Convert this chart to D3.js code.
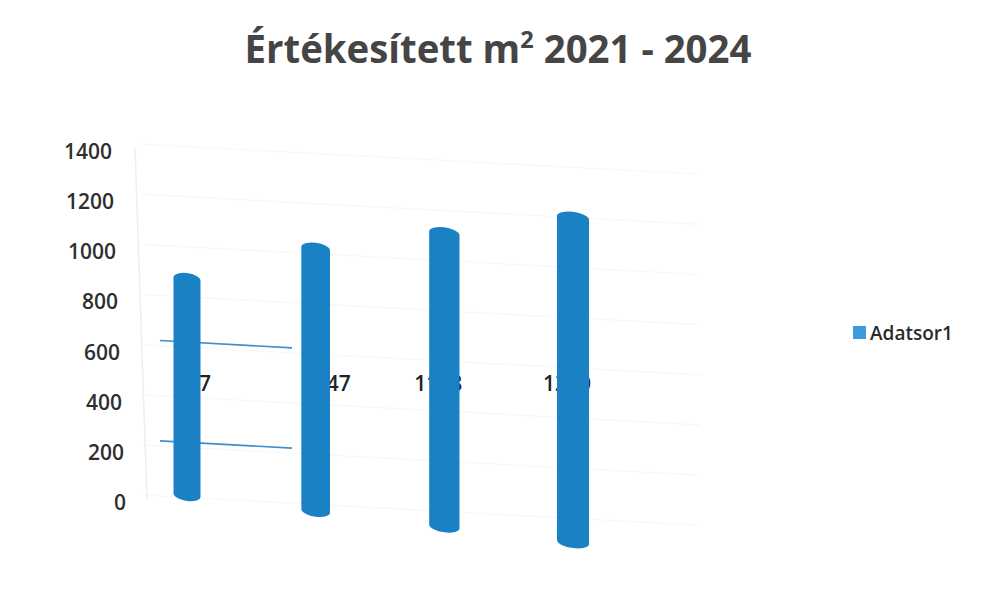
<!DOCTYPE html>
<html>
<head>
<meta charset="utf-8">
<script src="https://cdn.jsdelivr.net/npm/d3@7"></script>
<style>
  html, body { margin: 0; padding: 0; background: #fff; }
  svg { display: block; }
</style>
</head>
<body>
<svg id="chart" width="984" height="595"></svg>
<script>
const categories = ["2021", "2022", "2023", "2024"];
const values = [867, 1047, 1168, 1290];
const yTicks = [0, 200, 400, 600, 800, 1000, 1200, 1400];
const seriesName = "Adatsor1";

const svg = d3.select("#chart");
const W = 984, H = 595;
svg.append("rect").attr("width", W).attr("height", H).attr("fill", "#fff");

// Title
const title = svg.append("text")
  .attr("x", 498).attr("y", 63)
  .attr("text-anchor", "middle")
  .attr("font-family", "'Open Sans', 'DejaVu Sans', sans-serif")
  .attr("font-weight", 700)
  .attr("font-size", 39)
  .attr("fill", "#454545");
title.append("tspan").text("Értékesített m");
title.append("tspan").text("2").attr("font-size", 24).attr("dy", -15);
title.append("tspan").text(" 2021 - 2024").attr("dy", 15);
const tb = title.node().getBBox();
const targetW = 507;
title.attr("transform", `translate(498,0) scale(${targetW / tb.width},1) translate(-498,0)`);

// Axis scale (labels)
const y = d3.scaleLinear().domain([0, 1400]).range([503, 152]);
const labelShift = d3.scaleLinear().domain([1400, 0]).range([112, 126]);

// very faint gridlines
svg.append("g").selectAll("line").data(yTicks).join("line")
  .attr("x1", 140).attr("x2", 700)
  .attr("y1", d => y(d) - 8)
  .attr("y2", d => y(d) - 8 + 0.054 * 560)
  .attr("stroke", "#f6f7f9").attr("stroke-width", 1.2);

// faint vertical axis line
svg.append("line")
  .attr("x1", 135).attr("y1", y(1400) - 4)
  .attr("x2", 147).attr("y2", y(0) - 4)
  .attr("stroke", "#eceef1").attr("stroke-width", 1.5);

// blue back-wall gridline fragments
const frag = [600, 200];
svg.append("g").selectAll("line").data(frag).join("line")
  .attr("x1", 160).attr("x2", 292)
  .attr("y1", d => y(d) - 12)
  .attr("y2", d => y(d) - 12 + 0.055 * 132)
  .attr("stroke", "#3d8fcf").attr("stroke-width", 1.6);

// y labels
svg.append("g").selectAll("text").data(yTicks).join("text")
  .attr("x", d => labelShift(d))
  .attr("y", d => y(d) + 7)
  .attr("text-anchor", "end")
  .attr("font-family", "'Open Sans', 'DejaVu Sans', sans-serif")
  .attr("font-weight", 600)
  .attr("font-size", 21)
  .attr("fill", "#2e2e2e")
  .text(d => d);

// x positions
const x = d3.scalePoint().domain(categories).range([187, 573]);

// data labels (behind bars)
const labelOffset = [6, 11, -6, -6];
svg.append("g").selectAll("text").data(values).join("text")
  .attr("x", (d, i) => x(categories[i]) + labelOffset[i])
  .attr("y", 391)
  .attr("text-anchor", "middle")
  .attr("font-family", "'Open Sans', 'DejaVu Sans', sans-serif")
  .attr("font-weight", 600)
  .attr("font-size", 21)
  .attr("fill", "#222")
  .text(d => d);

// bars (cylinders) in skewed frame
const yb = d3.scaleLinear().domain([0, 1400]).range([498, 498 - 1400 * 0.256]);
const barW = d3.scaleLinear().domain([187, 573]).range([27, 32]);
const gBars = svg.append("g")
  .attr("transform", `translate(187,498) skewY(6.95) translate(-187,-498)`);
gBars.selectAll("rect").data(values).join("rect")
  .attr("x", (d, i) => x(categories[i]) - barW(x(categories[i])) / 2)
  .attr("width", (d, i) => barW(x(categories[i])))
  .attr("y", d => yb(d) - 3)
  .attr("height", d => yb(0) - yb(d) + 6)
  .attr("rx", (d, i) => barW(x(categories[i])) / 2)
  .attr("ry", 6)
  .attr("fill", "#1a82c4");

// Legend
svg.append("rect")
  .attr("x", 853).attr("y", 326).attr("width", 13).attr("height", 13)
  .attr("fill", "#3b9bdb");
svg.append("text")
  .attr("x", 870).attr("y", 340)
  .attr("font-family", "'Open Sans', 'DejaVu Sans', sans-serif")
  .attr("font-weight", 600)
  .attr("font-size", 19)
  .attr("fill", "#2a2a2a")
  .text(seriesName);
</script>
</body>
</html>
